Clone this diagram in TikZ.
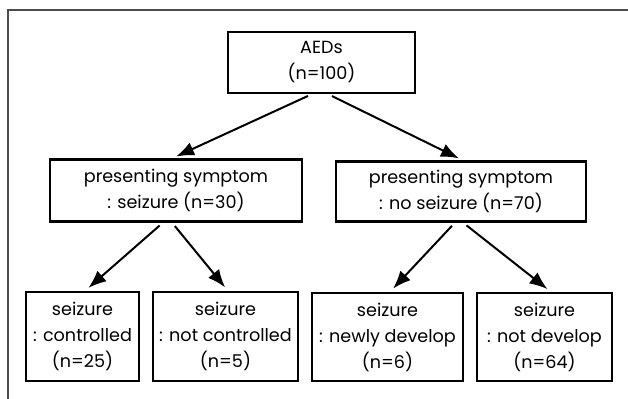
\documentclass[tikz,border=0pt]{standalone}
\usepackage{fontspec}
\setmainfont{Poppins}
\usetikzlibrary{arrows.meta}
\begin{document}
\begin{tikzpicture}[x=0.5pt, y=-0.5pt,
  box/.style={draw, line width=1.1pt, align=center, inner sep=0pt,
    font=\fontsize{8.8}{13}\selectfont},
  arr/.style={line width=1pt, -{Latex[length=9pt,width=7pt]},
    shorten <=2.25pt, shorten >=2.25pt}]
\useasboundingbox (0,0) rectangle (628,399);
\draw[line width=0.6pt, black!70] (8,399) -- (8,10) -- (628,10);
\node (aeds) at (321.5,62.5) [box, minimum width=93.5pt, minimum height=30.5pt] {AEDs\\(n=100)};
\node (szr) at (176,190.5) [box, minimum width=126pt, minimum height=31pt] {presenting symptom\\: seizure (n=30)};
\node (nos) at (461,191.5) [box, minimum width=125pt, minimum height=30pt] {presenting symptom\\: no seizure (n=70)};
\node (ctl) at (82.5,336.5) [box, minimum width=56.5pt, minimum height=44.5pt] {seizure\\: controlled\\(n=25)};
\node (nctl) at (225.5,336.5) [box, minimum width=72.5pt, minimum height=44.5pt] {seizure\\: not controlled\\(n=5)};
\node (new) at (387.5,337) [box, minimum width=75.5pt, minimum height=44pt] {seizure\\: newly develop\\(n=6)};
\node (ndev) at (544.5,337) [box, minimum width=67.5pt, minimum height=44pt] {seizure\\: not develop\\(n=64)};
\draw[arr] ([xshift=-4.75pt]aeds.south) -- ([xshift=-2pt]szr.north);
\draw[arr] ([xshift=3.25pt]aeds.south) -- ([xshift=1pt]nos.north);
\draw[arr] ([xshift=-6.5pt]szr.south) -- ([xshift=1.25pt]ctl.north);
\draw[arr] ([xshift=-2pt]szr.south) -- ([xshift=1.25pt]nctl.north);
\draw[arr] ([xshift=-3pt]nos.south) -- ([xshift=1.25pt]new.north);
\draw[arr] ([xshift=1pt]nos.south) -- ([xshift=3.25pt]ndev.north);
\end{tikzpicture}
\end{document}
